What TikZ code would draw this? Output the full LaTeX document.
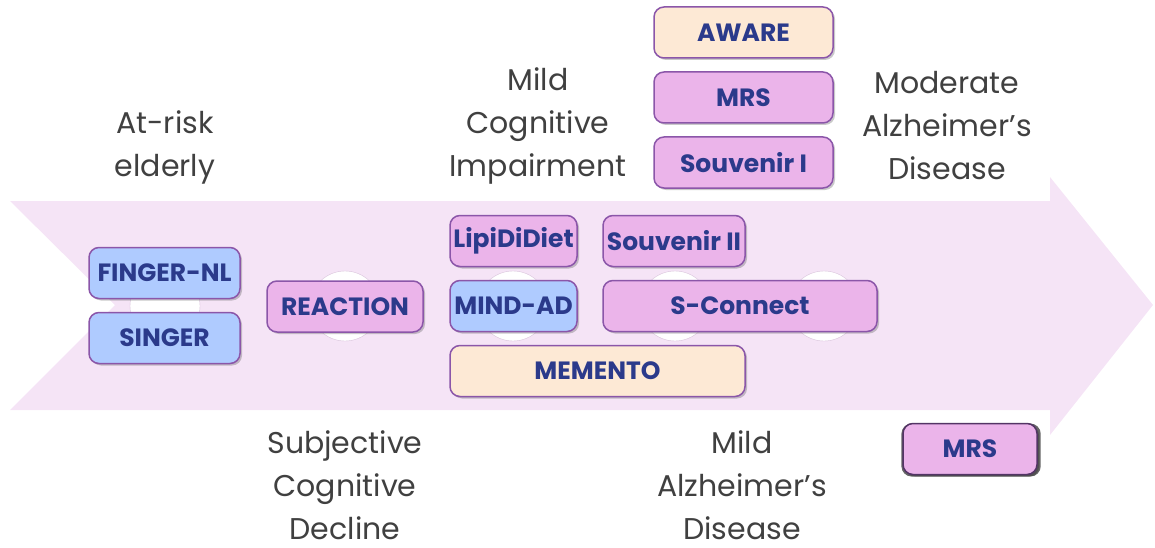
\documentclass[tikz,border=0pt]{standalone}
\usepackage{fontspec}
\setmainfont{Poppins}
\usetikzlibrary{shadows}

\definecolor{arrowpink}{HTML}{F5E4F6}
\definecolor{boxpink}{HTML}{EBB4EA}
\definecolor{boxblue}{HTML}{AFCBFF}
\definecolor{boxpeach}{HTML}{FDE9D5}
\definecolor{boxline}{HTML}{8B56A9}
\definecolor{boxtext}{HTML}{2B3A8B}
\definecolor{labeltext}{HTML}{404040}
\definecolor{ringline}{HTML}{D9C3DB}

\newcommand{\apos}{{\char"0027}}

\tikzset{
	trial/.style={draw=boxline, line width=1.5pt, rounded corners=10pt, text=boxtext,
		font=\fontsize{25}{25}\selectfont\bfseries, inner sep=0pt, minimum height=51pt,
		drop shadow={shadow xshift=2pt, shadow yshift=-2pt, opacity=0.3, fill=black!70}},
	pinktrial/.style={trial, fill=boxpink},
	bluetrial/.style={trial, fill=boxblue},
	peachtrial/.style={trial, fill=boxpeach},
	stage/.style={align=center, text=labeltext, inner sep=0pt, font=\fontsize{30}{43}\selectfont},
	ring/.style={circle, draw=ringline, fill=white, minimum size=70pt, inner sep=0pt}
}

\begin{document}
\begin{tikzpicture}[x=1pt, y=-1pt]
			\useasboundingbox (0,0) rectangle (1155,548);
			% big arrow
			\fill[arrowpink] (10,201) -- (1050,201) -- (1050,177) -- (1153,305) -- (1050,435)
				-- (1050,410) -- (10,410) -- (115,305) -- cycle;
				\foreach \x in {165,345,513,675,824}
					\node[ring] (ring\x) at (\x,306) {};
			% stages
			\node[stage] (atrisk) at (165,147) {At-risk\\elderly};
			\node[stage] (mci) at (538,126) {Mild\\Cognitive\\Impairment};
			\node[stage] (modad) at (947,126) {Moderate\\Alzheimer\apos s\\Disease};
			\node[stage] (scd) at (345,485) {Subjective\\Cognitive\\Decline};
			\node[stage] (mildad) at (742,485) {Mild\\Alzheimer\apos s\\Disease};
			% trials
			\node[bluetrial, minimum width=151pt] (finger) at (164.5,273) {FINGER-NL};
			\node[bluetrial, minimum width=151pt] (singer) at (164.5,338) {SINGER};
			\node[pinktrial, minimum width=156pt] (reaction) at (345,306.5) {REACTION};
			\node[pinktrial, minimum width=127pt] (lipididiet) at (513.5,241) {LipiDiDiet};
			\node[pinktrial, minimum width=142pt] (souvenir2) at (674,241) {Souvenir II};
			\node[bluetrial, minimum width=127pt] (mindad) at (513.5,306) {MIND-AD};
			\node[pinktrial, minimum width=274pt] (sconnect) at (740,306) {S-Connect};
			\node[peachtrial, minimum width=295pt] (memento) at (597.5,371) {MEMENTO};
			\node[peachtrial, minimum width=179pt] (aware) at (743.5,32.5) {AWARE};
			\node[pinktrial, minimum width=179pt] (mrs) at (743.5,97.5) {MRS};
			\node[pinktrial, minimum width=179pt] (souvenir1) at (743.5,162.5) {Souvenir I};
			\node[pinktrial, minimum width=134pt, draw=boxline!60!black,
				drop shadow={shadow xshift=1pt, shadow yshift=-1pt, shadow scale=1.04, opacity=0.6, fill=black}] (mrslate) at (970,449) {MRS};
\end{tikzpicture}
\end{document}
